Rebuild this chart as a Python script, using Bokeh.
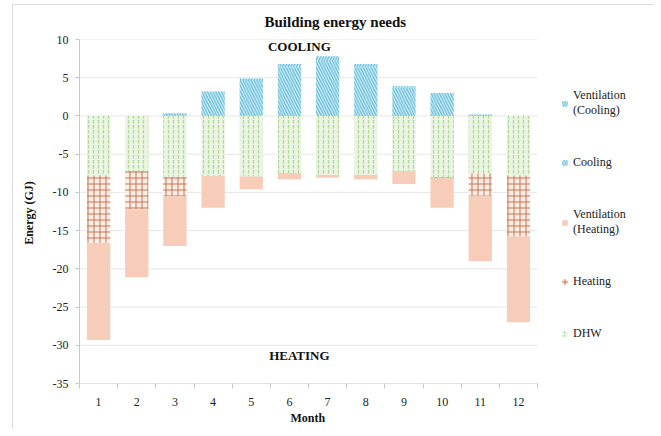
from bokeh.plotting import figure
from bokeh.models import (ColumnDataSource, Range1d, FixedTicker, Legend, LegendItem, Label, Title)
from bokeh.embed import file_html
from bokeh.resources import INLINE

months = [1, 2, 3, 4, 5, 6, 7, 8, 9, 10, 11, 12]
month_labels = ["1", "2", "3", "4", "5", "6", "7", "8", "9", "10", "11", "12"]
dhw = [7.75, 7.2, 7.95, 7.75, 7.9, 7.45, 7.65, 7.65, 7.2, 8.0, 7.5, 7.75]
heating = [8.85, 5.0, 2.55, 0.1, 0.0, 0.0, 0.0, 0.0, 0.0, 0.1, 2.95, 8.0]
vent_heating = [12.7, 8.9, 6.5, 4.15, 1.7, 0.85, 0.45, 0.65, 1.7, 3.9, 8.55, 11.25]
cooling = [0.0, 0.0, 0.35, 3.2, 4.7, 6.3, 7.2, 6.3, 3.7, 3.0, 0.2, 0.0]
vent_cooling = [0.0, 0.0, 0.0, 0.0, 0.2, 0.5, 0.6, 0.5, 0.2, 0.0, 0.0, 0.0]
y_ticks = [10, 5, 0, -5, -10, -15, -20, -25, -30, -35]
y_tick_labels = ["10", "5", "0", "-5", "-10", "-15", "-20", "-25", "-30", "-35"]

SERIF = "Liberation Serif"
X0, X1 = 0.5, 12.5  # category area

# stacked positions
dhw_top = [0.0] * 12
dhw_bot = [-v for v in dhw]
heat_top = dhw_bot
heat_bot = [a - b for a, b in zip(heat_top, heating)]
vh_top = heat_bot
vh_bot = [a - b for a, b in zip(vh_top, vent_heating)]
cool_bot = [0.0] * 12
cool_top = cooling[:]
vc_bot = cool_top
vc_top = [a + b for a, b in zip(vc_bot, vent_cooling)]

src = ColumnDataSource(dict(x=months, dhw_top=dhw_top, dhw_bot=dhw_bot,
                            heat_top=heat_top, heat_bot=heat_bot,
                            vh_top=vh_top, vh_bot=vh_bot,
                            cool_top=cool_top, cool_bot=cool_bot,
                            vc_top=vc_top, vc_bot=vc_bot))

p = figure(width=653, height=428, output_backend="svg", toolbar_location=None,
           x_range=Range1d(X0, 15.485), y_range=Range1d(-35, 10),
           min_border_left=79, min_border_right=2, min_border_top=39,
           min_border_bottom=45)
p.outline_line_color = None
p.xgrid.visible = False
p.ygrid.visible = False
p.background_fill_color = "white"
p.border_fill_color = None
p.styles = {
    "background-color": "white",
    "background-image": "linear-gradient(#D9D9D9, #D9D9D9), linear-gradient(#D9D9D9, #D9D9D9)",
    "background-position": "12px 4px, 12px 4px",
    "background-size": "1px 100%, 100% 1px",
    "background-repeat": "no-repeat, no-repeat",
}

# horizontal gridlines limited to the category area
grid_y = [t for t in y_ticks if t > -35]
p.segment(x0=[X0] * len(grid_y), x1=[X1] * len(grid_y), y0=grid_y, y1=grid_y,
          line_color="#E6E6E6", line_width=1)
# x axis baseline
p.segment(x0=[X0], x1=[X1], y0=[-35], y1=[-35], line_color="#C8C8C8", line_width=1)

p.title.text = "Building energy needs"
p.title.text_font = SERIF
p.title.text_font_size = "15px"
p.title.text_font_style = "bold"
p.title.text_color = "#111111"
p.title.align = "left"
p.title.offset = 185
p.title.standoff = 19

W = 0.61
r_vc = p.vbar(x="x", top="vc_top", bottom="vc_bot", width=W, source=src,
              fill_color="#D8F0F8", line_color=None, hatch_pattern="/",
              hatch_color="#4FB2D4", hatch_scale=5.5, hatch_weight=1.1)
r_c = p.vbar(x="x", top="cool_top", bottom="cool_bot", width=W, source=src,
             fill_color="#D8F0F8", line_color=None, hatch_pattern="\\",
             hatch_color="#4FB2D4", hatch_scale=5.5, hatch_weight=1.1)
r_vh = p.vbar(x="x", top="vh_top", bottom="vh_bot", width=W, source=src,
              fill_color="#F7CDB9", line_color=None)
r_h = p.vbar(x="x", top="heat_top", bottom="heat_bot", width=W, source=src,
             fill_color="#FCEEE7", line_color=None, hatch_pattern="+",
             hatch_color="#C67350", hatch_scale=6, hatch_weight=1.0)
r_d = p.vbar(x="x", top="dhw_top", bottom="dhw_bot", width=W, source=src,
             fill_color="#E9F4E1", line_color=None, hatch_pattern=":",
             hatch_color="#B0D699", hatch_scale=5, hatch_weight=1.2)

# axes
p.yaxis.ticker = FixedTicker(ticks=y_ticks)
p.yaxis.major_label_overrides = {t: s for t, s in zip(y_ticks, y_tick_labels)}
p.yaxis.axis_line_color = "#C8C8C8"
p.yaxis.major_tick_line_color = "#C8C8C8"
p.yaxis.major_tick_out = 4
p.yaxis.major_tick_in = 0
p.yaxis.minor_tick_line_color = None
p.yaxis.major_label_text_font = SERIF
p.yaxis.major_label_text_font_size = "12px"
p.yaxis.major_label_text_color = "#222222"
p.yaxis.major_label_standoff = 7
p.yaxis.axis_label = "Energy  (GJ)"
p.yaxis.axis_label_text_font = SERIF
p.yaxis.axis_label_text_font_size = "12px"
p.yaxis.axis_label_text_font_style = "bold"
p.yaxis.axis_label_text_color = "#111111"
p.yaxis.axis_label_standoff = 14

p.xaxis.ticker = FixedTicker(ticks=months, minor_ticks=[m - 0.5 for m in months] + [12.5])
p.xaxis.major_label_overrides = {m: lab for m, lab in zip(months, month_labels)}
p.xaxis.axis_line_color = None
p.xaxis.major_tick_line_color = None
p.xaxis.minor_tick_line_color = "#C8C8C8"
p.xaxis.minor_tick_out = 5
p.xaxis.minor_tick_in = 0
p.xaxis.major_label_text_font = SERIF
p.xaxis.major_label_text_font_size = "12px"
p.xaxis.major_label_text_color = "#222222"
p.xaxis.major_label_standoff = 8

p.add_layout(Title(text="Month", align="left", offset=211, standoff=0,
                   text_font=SERIF, text_font_size="12px", text_font_style="bold",
                   text_color="#111111"), "below")

p.add_layout(Label(x=6.26, y=9.05, text="COOLING", text_font=SERIF,
                   text_font_size="13px", text_font_style="bold", text_color="#111111",
                   text_align="center", text_baseline="middle"))
p.add_layout(Label(x=6.26, y=-31.4, text="HEATING", text_font=SERIF,
                   text_font_size="13px", text_font_style="bold", text_color="#111111",
                   text_align="center", text_baseline="middle"))

legend = Legend(items=[
    LegendItem(label="Ventilation\n(Cooling)", renderers=[r_vc]),
    LegendItem(label="Cooling", renderers=[r_c]),
    LegendItem(label="Ventilation\n(Heating)", renderers=[r_vh]),
    LegendItem(label="Heating", renderers=[r_h]),
    LegendItem(label="DHW", renderers=[r_d]),
], location=(482, 42), spacing=37, padding=0, margin=0,
    glyph_width=7, glyph_height=7, label_standoff=5,
    label_text_font=SERIF, label_text_font_size="12px", label_text_color="#222222",
    background_fill_alpha=0, border_line_color=None)
p.add_layout(legend, "center")

open("out.html", "w").write(file_html(p, INLINE))
